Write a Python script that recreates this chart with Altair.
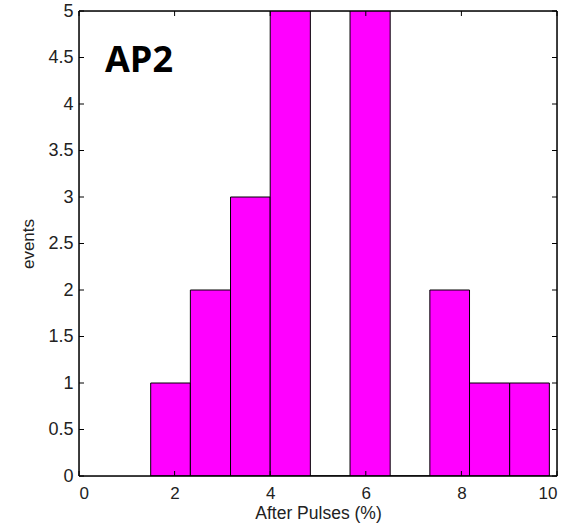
import altair as alt
import pandas as pd

bin_lo = [1.50, 2.33, 3.17, 4.00, 4.84, 5.67, 6.51, 7.34, 8.17, 9.01]
bin_hi = [2.33, 3.17, 4.00, 4.84, 5.67, 6.51, 7.34, 8.17, 9.01, 9.84]
counts = [1, 2, 3, 6, 0, 6, 0, 2, 1, 1]
x_ticks = [0, 2, 4, 6, 8, 10]
y_ticks = [0, 0.5, 1, 1.5, 2, 2.5, 3, 3.5, 4, 4.5, 5]

W, H = 478, 465
bars = pd.DataFrame({"lo": bin_lo, "hi": bin_hi, "n": counts})
xt = pd.DataFrame({"v": x_ticks})
yt = pd.DataFrame({"v": y_ticks})

xs = alt.Scale(domain=[0, 10], nice=False, zero=False)
ys = alt.Scale(domain=[0, 5], nice=False)

FONT = "Liberation Sans"
LBL = "'' + datum.value"

bar = alt.Chart(bars).mark_rect(
    fill="#ff00ff", stroke="black", strokeWidth=1, clip=True
).encode(
    x=alt.X("lo:Q", scale=xs, axis=alt.Axis(
        values=x_ticks, labelExpr=LBL, title="After Pulses (%)", ticks=False, domain=False,
        grid=False, labelFont=FONT, labelFontSize=17, labelColor="#222",
        labelPadding=9, titleFont=FONT, titleFontSize=17.5, titleFontWeight="normal",
        titleColor="#222", titlePadding=3)),
    x2="hi:Q",
    y=alt.Y("n:Q", scale=ys, axis=alt.Axis(
        values=y_ticks, labelExpr=LBL, title="events", ticks=False, domain=False, grid=False,
        labelFont=FONT, labelFontSize=18, labelColor="#222", labelPadding=6,
        titleFont=FONT, titleFontSize=17, titleFontWeight="normal",
        titleColor="#222", titlePadding=10)),
    y2=alt.datum(0),
)

tb = alt.Chart(xt).mark_rule(color="black", strokeWidth=1).encode(
    x=alt.X("v:Q", scale=xs), y=alt.value(H), y2=alt.value(H - 5))
tt = alt.Chart(xt).mark_rule(color="black", strokeWidth=1).encode(
    x=alt.X("v:Q", scale=xs), y=alt.value(0), y2=alt.value(5))
tl = alt.Chart(yt).mark_rule(color="black", strokeWidth=1).encode(
    y=alt.Y("v:Q", scale=ys), x=alt.value(0), x2=alt.value(5))
tr = alt.Chart(yt).mark_rule(color="black", strokeWidth=1).encode(
    y=alt.Y("v:Q", scale=ys), x=alt.value(W), x2=alt.value(W - 5))

frame_base = alt.Chart(pd.DataFrame({"d": [0]}))
fr_style = dict(color="black", strokeWidth=1.5)
f_top = frame_base.mark_rule(**fr_style).encode(x=alt.value(0), x2=alt.value(W), y=alt.value(0))
f_bot = frame_base.mark_rule(**fr_style).encode(x=alt.value(0), x2=alt.value(W), y=alt.value(H))
f_left = frame_base.mark_rule(**fr_style).encode(y=alt.value(0), y2=alt.value(H), x=alt.value(0))
f_right = frame_base.mark_rule(**fr_style).encode(y=alt.value(0), y2=alt.value(H), x=alt.value(W))

label = alt.Chart(pd.DataFrame({"t": ["AP2"]})).mark_text(
    font="Open Sans", fontSize=36, fontWeight="bold", color="black",
    align="left", baseline="alphabetic"
).encode(text="t:N", x=alt.value(26), y=alt.value(61))

chart = alt.layer(bar, tb, tt, tl, tr, f_top, f_bot, f_left, f_right, label).properties(
    width=W, height=H,
    autosize=alt.AutoSizeParams(type="none"),
    padding={"left": 79, "top": 11, "right": 19, "bottom": 51},
).configure_view(strokeWidth=0).configure(background="white")

chart.save("out.html", embed_options={"renderer": "svg", "actions": False})
